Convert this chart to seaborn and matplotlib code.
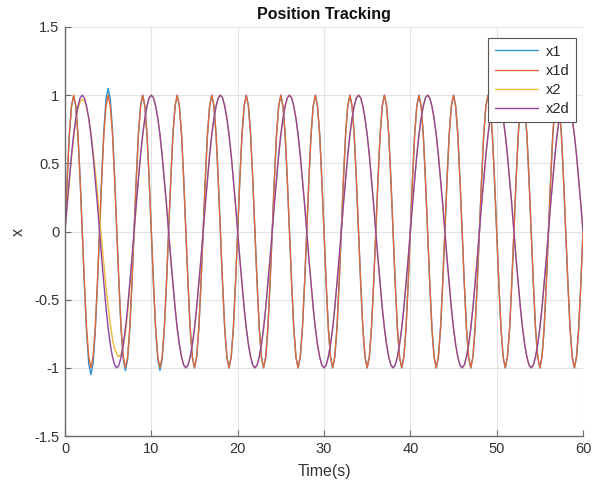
import numpy as np
import pandas as pd
import matplotlib
matplotlib.use("Agg")
import matplotlib.pyplot as plt
import seaborn as sns

T_STEP = 0.25
N = 241

X1D = (
    [0, .38, .71, .92, 1, .92, .71, .38, 0, -.38, -.71, -.92, -1, -.92, -.71, -.38] +
    [0, .38, .71, .92, 1, .92, .71, .38, 0, -.38, -.71, -.92, -1, -.92, -.71, -.38] +
    [0, .38, .71, .92, 1, .92, .71, .38, 0, -.38, -.71, -.92, -1, -.92, -.71, -.38] +
    [0, .38, .71, .92, 1, .92, .71, .38, 0, -.38, -.71, -.92, -1, -.92, -.71, -.38] +
    [0, .38, .71, .92, 1, .92, .71, .38, 0, -.38, -.71, -.92, -1, -.92, -.71, -.38] +
    [0, .38, .71, .92, 1, .92, .71, .38, 0, -.38, -.71, -.92, -1, -.92, -.71, -.38] +
    [0, .38, .71, .92, 1, .92, .71, .38, 0, -.38, -.71, -.92, -1, -.92, -.71, -.38] +
    [0, .38, .71, .92, 1, .92, .71, .38, 0, -.38, -.71, -.92, -1, -.92, -.71, -.38] +
    [0, .38, .71, .92, 1, .92, .71, .38, 0, -.38, -.71, -.92, -1, -.92, -.71, -.38] +
    [0, .38, .71, .92, 1, .92, .71, .38, 0, -.38, -.71, -.92, -1, -.92, -.71, -.38] +
    [0, .38, .71, .92, 1, .92, .71, .38, 0, -.38, -.71, -.92, -1, -.92, -.71, -.38] +
    [0, .38, .71, .92, 1, .92, .71, .38, 0, -.38, -.71, -.92, -1, -.92, -.71, -.38] +
    [0, .38, .71, .92, 1, .92, .71, .38, 0, -.38, -.71, -.92, -1, -.92, -.71, -.38] +
    [0, .38, .71, .92, 1, .92, .71, .38, 0, -.38, -.71, -.92, -1, -.92, -.71, -.38] +
    [0, .38, .71, .92, 1, .92, .71, .38, 0, -.38, -.71, -.92, -1, -.92, -.71, -.38] +
    [0]
)

X2D = (
    [0, .2, .38, .56, .71, .83, .92, .98, 1, .98, .92, .83, .71, .56, .38, .2,
     0, -.2, -.38, -.56, -.71, -.83, -.92, -.98, -1, -.98, -.92, -.83, -.71, -.56, -.38, -.2] +
    [0, .2, .38, .56, .71, .83, .92, .98, 1, .98, .92, .83, .71, .56, .38, .2,
     0, -.2, -.38, -.56, -.71, -.83, -.92, -.98, -1, -.98, -.92, -.83, -.71, -.56, -.38, -.2] +
    [0, .2, .38, .56, .71, .83, .92, .98, 1, .98, .92, .83, .71, .56, .38, .2,
     0, -.2, -.38, -.56, -.71, -.83, -.92, -.98, -1, -.98, -.92, -.83, -.71, -.56, -.38, -.2] +
    [0, .2, .38, .56, .71, .83, .92, .98, 1, .98, .92, .83, .71, .56, .38, .2,
     0, -.2, -.38, -.56, -.71, -.83, -.92, -.98, -1, -.98, -.92, -.83, -.71, -.56, -.38, -.2] +
    [0, .2, .38, .56, .71, .83, .92, .98, 1, .98, .92, .83, .71, .56, .38, .2,
     0, -.2, -.38, -.56, -.71, -.83, -.92, -.98, -1, -.98, -.92, -.83, -.71, -.56, -.38, -.2] +
    [0, .2, .38, .56, .71, .83, .92, .98, 1, .98, .92, .83, .71, .56, .38, .2,
     0, -.2, -.38, -.56, -.71, -.83, -.92, -.98, -1, -.98, -.92, -.83, -.71, -.56, -.38, -.2] +
    [0, .2, .38, .56, .71, .83, .92, .98, 1, .98, .92, .83, .71, .56, .38, .2,
     0, -.2, -.38, -.56, -.71, -.83, -.92, -.98, -1, -.98, -.92, -.83, -.71, -.56, -.38, -.2] +
    [0, .2, .38, .56, .71, .83, .92, .98, 1, .98, .92, .83, .71, .56, .38, .2] +
    [0]
)

# actual trajectories: transient at the start, then they coincide with the desired ones
X1_EARLY = [0, .38, .71, .92, .99, .92, .71, .39, 0, -.40, -.74, -.97, -1.05, -.97, -.74, -.40,
            0, .40, .74, .97, 1.05, .97, .74, .40, 0, -.39, -.72, -.94, -1.02, -.94, -.72, -.39,
            0, .38, .71, .92, 1.0, .92, .71, .38, 0, -.39, -.72, -.94, -1.02, -.94, -.72, -.39]
X2_EARLY = [0, .19, .37, .54, .69, .81, .90, .95, .97, .96, .91, .83, .73, .59, .45, .29,
            .11, -.07, -.24, -.41, -.55, -.68, -.79, -.86, -.90, -.92, -.90, -.84, -.74, -.60, -.41, -.21]

X1 = X1_EARLY + X1D[len(X1_EARLY):]
X2 = X2_EARLY + X2D[len(X2_EARLY):]

SERIES = ["x1", "x1d", "x2", "x2d"]
COLORS = ["#2f8fd0", "#e0693a", "#efb93a", "#8e44a0"]
X_TICKS = [0, 10, 20, 30, 40, 50, 60]
Y_TICKS = [-1.5, -1, -0.5, 0, 0.5, 1, 1.5]

time = np.arange(N) * T_STEP
df = pd.concat([
    pd.DataFrame({"t": time, "v": vals, "s": name})
    for name, vals in zip(SERIES, [X1, X1D, X2, X2D])
], ignore_index=True)

sns.set_theme(style="whitegrid")
plt.rcParams["font.family"] = ["Liberation Sans", "DejaVu Sans"]

fig = plt.figure(figsize=(5.98, 4.88), dpi=100)
ax = fig.add_axes([65 / 598, 52 / 488, 518 / 598, 409 / 488])

sns.lineplot(data=df, x="t", y="v", hue="s", hue_order=SERIES,
             palette=COLORS, estimator=None, sort=False, linewidth=1.0, ax=ax)

ax.set_xlim(0, 60)
ax.set_ylim(-1.5, 1.5)
ax.set_xticks(X_TICKS)
ax.set_yticks(Y_TICKS)
ax.set_yticklabels(["-1.5", "-1", "-0.5", "0", "0.5", "1", "1.5"])
ax.grid(True, color="#e3e3e3", linewidth=0.8)
ax.set_facecolor("white")
for side in ["top", "right"]:
    ax.spines[side].set_visible(False)
for side in ["left", "bottom"]:
    ax.spines[side].set_visible(True)
    ax.spines[side].set_color("#6a6a6a")
    ax.spines[side].set_linewidth(1.0)
ax.tick_params(direction="in", length=4, width=0.8, color="#6a6a6a",
               labelsize=10.5, labelcolor="#333333", pad=4,
               left=True, bottom=True)

ax.set_title("Position Tracking", fontsize=11.5, fontweight="bold", color="#111111", pad=6)
ax.set_xlabel("Time(s)", fontsize=11.5, color="#333333", labelpad=6)
ax.set_ylabel("x", fontsize=11.5, color="#333333", labelpad=6)

handles, labels = ax.get_legend_handles_labels()
leg = ax.legend(handles, labels, loc="upper right",
                bbox_to_anchor=(576 / 598, 450 / 488), bbox_transform=fig.transFigure,
                borderaxespad=0, frameon=True, fancybox=False, framealpha=1,
                edgecolor="#555555", fontsize=10.5, handlelength=3.0,
                handletextpad=0.5, labelspacing=0.35, borderpad=0.45)
leg.get_frame().set_linewidth(0.8)

fig.savefig("out.png", dpi=100)
